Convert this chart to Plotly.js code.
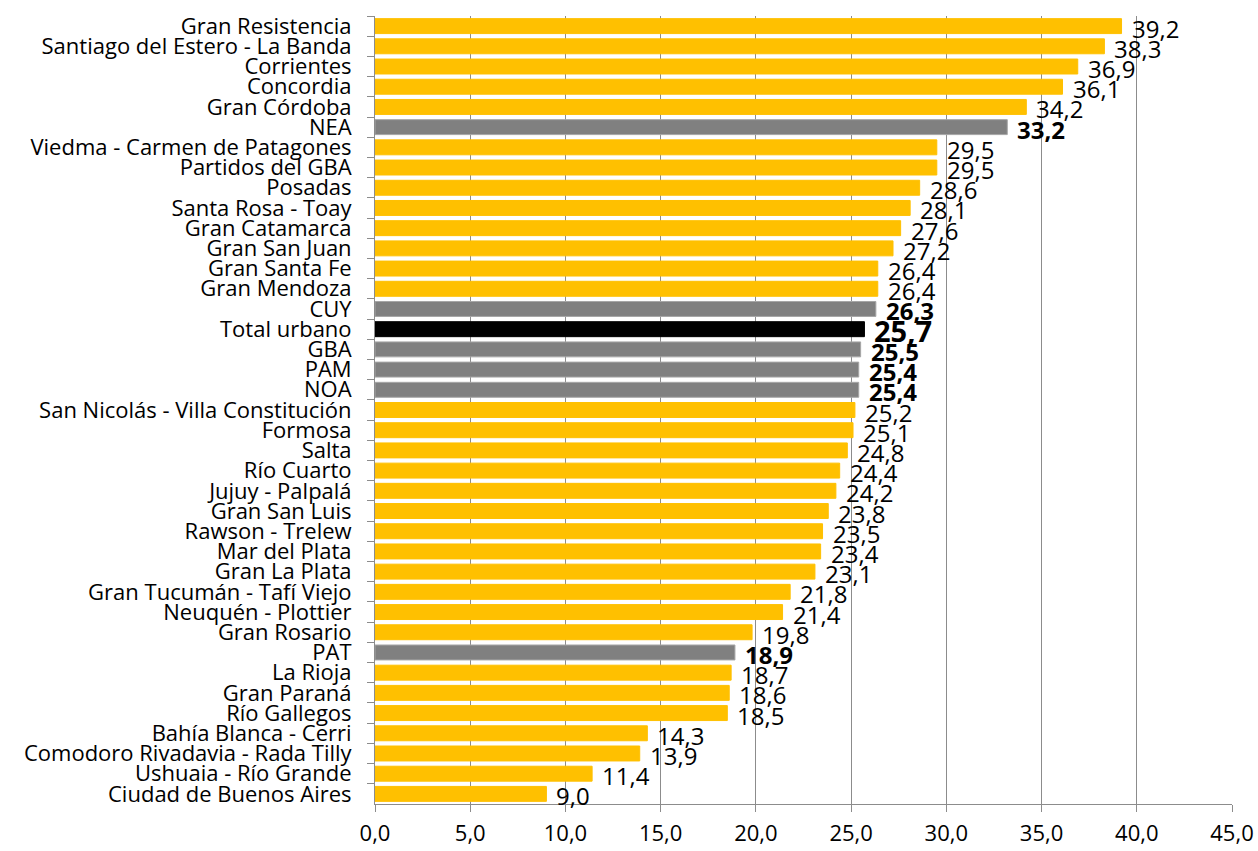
<!DOCTYPE html>
<html>
<head>
<meta charset="utf-8">
<script src="https://cdn.plot.ly/plotly-3.0.1.min.js"></script>
<style>html,body{margin:0;padding:0;background:#fff;}#chart{width:1258px;height:851px;}</style>
</head>
<body>
<div id="chart"></div>
<script>
const categories = [
  "Gran Resistencia","Santiago del Estero - La Banda","Corrientes","Concordia","Gran Córdoba","NEA",
  "Viedma - Carmen de Patagones","Partidos del GBA","Posadas","Santa Rosa - Toay","Gran Catamarca",
  "Gran San Juan","Gran Santa Fe","Gran Mendoza","CUY","Total urbano","GBA","PAM","NOA",
  "San Nicolás - Villa Constitución","Formosa","Salta","Río Cuarto","Jujuy - Palpalá","Gran San Luis",
  "Rawson - Trelew","Mar del Plata","Gran La Plata","Gran Tucumán - Tafí Viejo","Neuquén - Plottier",
  "Gran Rosario","PAT","La Rioja","Gran Paraná","Río Gallegos","Bahía Blanca - Cerri",
  "Comodoro Rivadavia - Rada Tilly","Ushuaia - Río Grande","Ciudad de Buenos Aires"
];
const values = [
  39.2,38.3,36.9,36.1,34.2,33.2,29.5,29.5,28.6,28.1,27.6,27.2,26.4,26.4,26.3,25.7,25.5,25.4,25.4,
  25.2,25.1,24.8,24.4,24.2,23.8,23.5,23.4,23.1,21.8,21.4,19.8,18.9,18.7,18.6,18.5,14.3,13.9,11.4,9.0
];
const regions = ["NEA","CUY","GBA","PAM","NOA","PAT"];
const totalName = "Total urbano";
const xTicks = [0,5,10,15,20,25,30,35,40,45];

const FONT = "'Open Sans', 'Noto Sans', sans-serif";
const colors = categories.map(c => c === totalName ? "#000000" : (regions.includes(c) ? "#808080" : "#FFC000"));
const lineColors = categories.map(c => c === totalName ? "#000000" : (regions.includes(c) ? "#A6A6A6" : "#FFC000"));

const fmt = v => v.toFixed(1).replace(".", ",");

const annotations = categories.map((c, i) => {
  const isTot = c === totalName, isReg = regions.includes(c);
  const label = (isTot || isReg) ? "<b>" + fmt(values[i]) + "</b>" : fmt(values[i]);
  return {
    x: values[i], y: c, xref: "x", yref: "y",
    text: label, showarrow: false, xanchor: "left", yanchor: "middle",
    xshift: 8, yshift: isTot ? -1 : -2,
    font: {family: FONT, size: isTot ? 29 : 24, color: "#000"}
  };
});

const trace = {
  type: "bar", orientation: "h",
  x: values, y: categories,
  marker: {color: colors, line: {color: lineColors, width: 1}},
  width: 0.74,
  hoverinfo: "x+y"
};

const layout = {
  width: 1258, height: 851,
  margin: {l: 375, r: 26, t: 16, b: 47},
  paper_bgcolor: "#fff", plot_bgcolor: "#fff",
  separators: ",.",
  showlegend: false,
  font: {family: FONT, size: 22, color: "#000"},
  xaxis: {
    range: [0, 45], tickvals: xTicks, tickformat: ".1f",
    showgrid: true, gridcolor: "#8C8C8C", gridwidth: 1,
    showline: true, linecolor: "#8C8C8C", linewidth: 1,
    ticks: "outside", ticklen: 7, tickcolor: "#8C8C8C",
    zeroline: false, ticklabelstandoff: 3,
    tickfont: {family: FONT, size: 22, color: "#000"}
  },
  yaxis: {
    type: "category", range: [categories.length - 0.5, -0.5],
    tickmode: "linear", tick0: 0, dtick: 1,
    showline: true, linecolor: "#8C8C8C", linewidth: 1,
    ticks: "outside", ticklen: 7, tickcolor: "#8C8C8C", tickson: "boundaries",
    showgrid: false, ticklabelstandoff: 18,
    tickfont: {family: FONT, size: 22, color: "#000"}
  },
  bargap: 0.26,
  annotations: annotations
};

Plotly.newPlot("chart", [trace], layout, {displayModeBar: false, staticPlot: true});
</script>
</body>
</html>
